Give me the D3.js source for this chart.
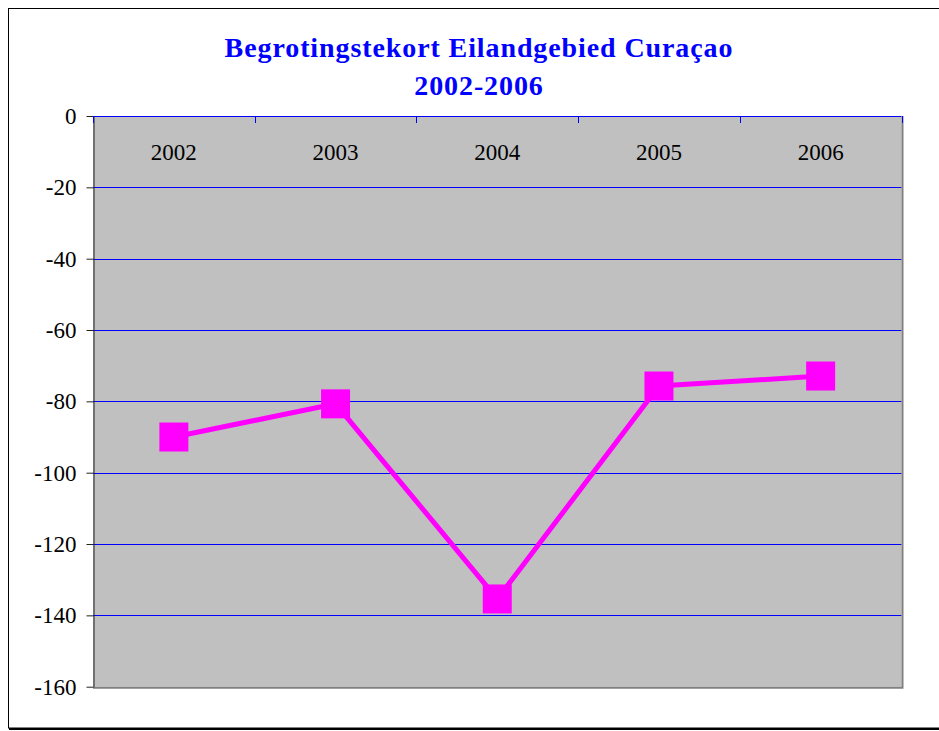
<!DOCTYPE html>
<html>
<head>
<meta charset="utf-8">
<script src="https://cdn.jsdelivr.net/npm/d3@7"></script>
<style>
  body { margin: 0; background: #fff; }
  svg { display: block; }
  text { font-family: "Liberation Serif", "Times New Roman", serif; }
</style>
</head>
<body>
<svg id="chart" width="939" height="731"></svg>
<script>
// chart data
const years = ['2002', '2003', '2004', '2005', '2006'];
const deficit = [-90, -80.7, -135.4, -75.7, -72.9];
const yTicks = [0, -20, -40, -60, -80, -100, -120, -140, -160];
const titleLines = ['Begrotingstekort Eilandgebied Curaçao', '2002-2006'];

const plot = { left: 93, top: 116, right: 901.5, bottom: 686.7 };

const svg = d3.select('#chart');

// outer frame
svg.append('rect')
    .attr('x', 8.5).attr('y', 8.5)
    .attr('width', 940).attr('height', 719.5)
    .attr('fill', 'none').attr('stroke', '#000').attr('stroke-width', 1);
svg.append('line')
    .attr('x1', 9).attr('x2', 939).attr('y1', 729).attr('y2', 729)
    .attr('stroke', '#000').attr('stroke-width', 2);

// title
svg.append('text')
    .attr('text-anchor', 'middle')
    .style('fill', '#0000ff')
    .style('font-weight', 'bold')
    .style('font-size', '28px')
    .style('font-family', '"Liberation Serif", serif')
    .style('letter-spacing', '0.9px')
    .selectAll('tspan')
    .data(titleLines)
    .enter()
    .append('tspan')
    .attr('x', 479)
    .attr('y', function(d, i) { return 57 + i * 38; })
    .text(function(d) { return d; });

let x = d3.scaleBand().domain(years).range([plot.left, plot.right]);
let y = d3.scaleLinear().domain([-160, 0]).range([plot.bottom, plot.top]);

// plot background
svg.append('rect')
    .attr('x', plot.left).attr('y', plot.top)
    .attr('width', plot.right - plot.left).attr('height', plot.bottom - plot.top)
    .attr('fill', '#c0c0c0');

// grid lines
svg.append('g')
    .selectAll('line')
    .data(yTicks)
    .enter()
    .append('line')
    .attr('x1', plot.left).attr('x2', plot.right)
    .attr('y1', function(d) { return Math.round(y(d)) + 0.5; })
    .attr('y2', function(d) { return Math.round(y(d)) + 0.5; })
    .attr('stroke', '#0000ff').attr('stroke-width', 1);

// gray right / bottom border
svg.append('path')
    .attr('d', 'M' + (plot.right + 1) + ',' + plot.top + ' V' + (plot.bottom + 1) + ' H' + plot.left)
    .attr('fill', 'none').attr('stroke', '#808080').attr('stroke-width', 2);

// y axis
let yAxis = svg.append('g')
    .attr('transform', 'translate(' + (plot.left + 0.5) + ',0)')
    .call(d3.axisLeft(y)
        .tickValues(yTicks)
        .tickFormat(function(d) { return String(d); })
        .tickSize(7).tickPadding(10).tickSizeOuter(0));
yAxis.select('.domain').attr('stroke', '#222');
yAxis.selectAll('.tick line').attr('stroke', '#222');
yAxis.selectAll('text')
    .style('font-family', '"Liberation Serif", serif')
    .style('font-size', '23px')
    .style('fill', '#000');

// top category axis: ticks at band boundaries, labels inside plot
let bounds = years.map(function(d) { return x(d); }).concat([plot.right]);
svg.append('g')
    .selectAll('line')
    .data(bounds)
    .enter()
    .append('line')
    .attr('x1', function(d) { return Math.round(d) + 0.5; })
    .attr('x2', function(d) { return Math.round(d) + 0.5; })
    .attr('y1', plot.top).attr('y2', plot.top + 7)
    .attr('stroke', '#0000ff');

let xAxis = svg.append('g')
    .attr('transform', 'translate(0,' + plot.top + ')')
    .call(d3.axisBottom(x).tickSize(0).tickPadding(28));
xAxis.select('.domain').remove();
xAxis.selectAll('text')
    .style('font-family', '"Liberation Serif", serif')
    .style('font-size', '23px')
    .style('fill', '#000');

// series line
let points = years.map(function(d, i) { return { year: d, value: deficit[i] }; });
let line = d3.line()
    .x(function(d) { return x(d.year) + x.bandwidth() / 2; })
    .y(function(d) { return y(d.value); });

svg.append('path')
    .datum(points)
    .attr('d', line)
    .attr('fill', 'none')
    .attr('stroke', '#ff00ff')
    .attr('stroke-width', 5);

// square markers
let size = 29;
svg.append('g')
    .selectAll('rect')
    .data(points)
    .enter()
    .append('rect')
    .attr('x', function(d) { return x(d.year) + x.bandwidth() / 2 - size / 2; })
    .attr('y', function(d) { return y(d.value) - size / 2; })
    .attr('width', size).attr('height', size)
    .attr('fill', '#ff00ff');
</script>
</body>
</html>
